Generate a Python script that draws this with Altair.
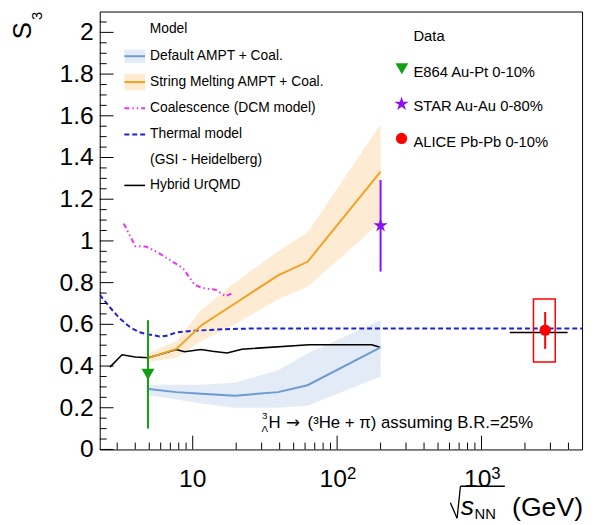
import altair as alt
import pandas as pd

# ---------------- data ----------------
thermal_x = [2.27, 2.63, 3.08, 3.7, 4.3, 4.8, 5.9, 6.6, 7.7, 10, 17, 26, 200, 4970]
thermal_y = [0.742, 0.687, 0.632, 0.585, 0.562, 0.553, 0.542, 0.545, 0.561, 0.569, 0.577, 0.58, 0.58, 0.58]

dcm_x = [3.33, 4.0, 4.8, 5.6, 7.3, 8.55, 10.3, 11.7, 14.4, 16.9, 18.8]
dcm_y = [1.083, 0.975, 0.972, 0.948, 0.90, 0.869, 0.79, 0.774, 0.766, 0.735, 0.75]

urqmd_x = [2.67, 3.24, 4.0, 4.93, 6.41, 7.69, 8.78, 11.4, 13.7, 17.3, 21.9, 64.2, 174, 198]
urqmd_y = [0.395, 0.454, 0.443, 0.44, 0.463, 0.479, 0.469, 0.479, 0.471, 0.463, 0.481, 0.502, 0.502, 0.49]

urqmd_lhc_x = [1570, 3950]
urqmd_lhc_y = [0.561, 0.561]

ampt_x = [4.93, 7.7, 11.5, 19.6, 39, 62.4, 200]
sm_y = [0.438, 0.482, 0.596, 0.70, 0.835, 0.90, 1.332]
sm_lo = [0.42, 0.44, 0.52, 0.60, 0.72, 0.78, 1.09]
sm_hi = [0.46, 0.52, 0.67, 0.80, 0.95, 1.04, 1.56]
def_y = [0.29, 0.275, 0.267, 0.258, 0.275, 0.308, 0.49]
def_lo = [0.26, 0.24, 0.22, 0.20, 0.20, 0.21, 0.35]
def_hi = [0.31, 0.31, 0.31, 0.32, 0.38, 0.46, 0.62]

exp_name = ["E864 Au-Pt 0-10%", "STAR Au-Au 0-80%", "ALICE Pb-Pb 0-10%"]
exp_x = [4.9, 200, 2760]
exp_y = [0.36, 1.074, 0.572]
exp_lo = [0.10, 0.853, 0.482]
exp_hi = [0.62, 1.292, 0.659]
alice_sys_x = [2291, 3240]
alice_sys_y = [0.419, 0.722]

x_major = [10, 100, 1000]
x_major_exp = ["", "2", "3"]
x_minor = [3, 4, 5, 6, 7, 8, 9, 20, 30, 40, 50, 60, 70, 80, 90,
           200, 300, 400, 500, 600, 700, 800, 900, 2000, 3000, 4000]
y_major = [0, 0.2, 0.4, 0.6, 0.8, 1.0, 1.2, 1.4, 1.6, 1.8, 2.0]
y_labels = ["0", "0.2", "0.4", "0.6", "0.8", "1", "1.2", "1.4", "1.6", "1.8", "2"]
y_minor = [round(i * 0.05, 2) for i in range(42) if i % 4]

# ---------------- styling ----------------
W, H = 489, 444
FONT = "Liberation Sans"
C_SM = "#f4a023"
C_DEF = "#6c9bd2"
C_DCM = "#ee33ee"
C_TH = "#2020cc"
C_E864 = "#12a012"
C_STAR = "#8a10ee"
C_ALICE = "#ff0000"
BAND_OP = 0.2
STAR_PATH = ("M0,-1 L0.2245,-0.309 L0.951,-0.309 L0.363,0.118 L0.588,0.809 "
             "L0,0.382 L-0.588,0.809 L-0.363,0.118 L-0.951,-0.309 L-0.2245,-0.309 Z")

xs = alt.Scale(type="log", domain=[2.27, 4970], nice=False)
ys = alt.Scale(domain=[0, 2.1], nice=False, zero=False)


def X(f):
    return alt.X(f, type="quantitative", scale=xs, axis=None)


def Y(f):
    return alt.Y(f, type="quantitative", scale=ys, axis=None)


one = pd.DataFrame({"a": [0]})


def txt(s, px, py, size, align="left", baseline="middle", angle=0, style="normal",
        color="black", font=FONT):
    return alt.Chart(one).mark_text(
        text=s, align=align, baseline=baseline, fontSize=size, font=font,
        angle=angle, fontStyle=style, color=color
    ).encode(x=alt.value(px), y=alt.value(py))


def seg(x1, y1, x2, y2, color="black", width=1.0, dash=None):
    kw = dict(color=color, strokeWidth=width)
    if dash:
        kw["strokeDash"] = dash
    return alt.Chart(one).mark_rule(**kw).encode(
        x=alt.value(x1), y=alt.value(y1), x2=alt.value(x2), y2=alt.value(y2))


def box(x1, y1, x2, y2, color, opacity):
    return alt.Chart(one).mark_rect(color=color, opacity=opacity).encode(
        x=alt.value(x1), x2=alt.value(x2), y=alt.value(y1), y2=alt.value(y2))


ampt = pd.DataFrame({"x": ampt_x, "sm": sm_y, "smlo": sm_lo, "smhi": sm_hi,
                     "df": def_y, "dflo": def_lo, "dfhi": def_hi})

layers = []
# bands
layers.append(alt.Chart(ampt).mark_area(color=C_SM, opacity=BAND_OP, clip=True)
              .encode(x=X("x"), y=Y("smlo"), y2=alt.Y2("smhi")))
layers.append(alt.Chart(ampt).mark_area(color=C_DEF, opacity=BAND_OP, clip=True)
              .encode(x=X("x"), y=Y("dflo"), y2=alt.Y2("dfhi")))


def line(xv, yv, color, width=2, dash=None):
    kw = dict(color=color, strokeWidth=width, clip=True)
    if dash:
        kw["strokeDash"] = dash
    return alt.Chart(pd.DataFrame({"x": xv, "y": yv})).mark_line(**kw).encode(x=X("x"), y=Y("y"))


layers.append(line(thermal_x, thermal_y, C_TH, 2, [5, 3]))
layers.append(line(dcm_x, dcm_y, C_DCM, 2, [5, 3, 1.5, 3, 1.5, 3]))
layers.append(line(urqmd_x, urqmd_y, "black", 1.6))
layers.append(line(urqmd_lhc_x, urqmd_lhc_y, "black", 1.6))
layers.append(line(ampt_x, sm_y, C_SM, 2))
layers.append(line(ampt_x, def_y, C_DEF, 2))

exp = pd.DataFrame({"name": exp_name, "x": exp_x, "y": exp_y, "lo": exp_lo, "hi": exp_hi})
ecol = alt.Color("name:N", scale=alt.Scale(domain=exp_name, range=[C_E864, C_STAR, C_ALICE]), legend=None)
layers.append(alt.Chart(exp).mark_rule(strokeWidth=2).encode(
    x=X("x"), y=Y("lo"), y2=alt.Y2("hi"), color=ecol))

sysdf = pd.DataFrame({"x1": [alice_sys_x[0]], "x2": [alice_sys_x[1]],
                      "y1": [alice_sys_y[0]], "y2": [alice_sys_y[1]]})
layers.append(alt.Chart(sysdf).mark_rect(fill="white", fillOpacity=0, stroke=C_ALICE, strokeWidth=1.5)
              .encode(x=X("x1"), x2=alt.X2("x2"), y=Y("y1"), y2=alt.Y2("y2")))

layers.append(alt.Chart(exp.iloc[[0]]).mark_point(shape="triangle-down", filled=True, size=170, opacity=1, color=C_E864)
              .encode(x=X("x"), y=Y("y")))
layers.append(alt.Chart(exp.iloc[[1]]).mark_point(shape=STAR_PATH, filled=True, size=230, opacity=1, color=C_STAR)
              .encode(x=X("x"), y=Y("y")))
layers.append(alt.Chart(exp.iloc[[2]]).mark_point(shape="circle", filled=True, size=130, opacity=1, color=C_ALICE)
              .encode(x=X("x"), y=Y("y")))

# ticks (inside the frame, ROOT style)
layers.append(alt.Chart(pd.DataFrame({"v": x_major})).mark_rule(color="black", strokeWidth=1)
              .encode(x=X("v"), y=alt.value(H), y2=alt.value(H - 14)))
layers.append(alt.Chart(pd.DataFrame({"v": x_minor})).mark_rule(color="black", strokeWidth=1)
              .encode(x=X("v"), y=alt.value(H), y2=alt.value(H - 7)))
layers.append(alt.Chart(pd.DataFrame({"v": y_major})).mark_rule(color="black", strokeWidth=1)
              .encode(y=Y("v"), x=alt.value(0), x2=alt.value(14)))
layers.append(alt.Chart(pd.DataFrame({"v": y_minor})).mark_rule(color="black", strokeWidth=1)
              .encode(y=Y("v"), x=alt.value(0), x2=alt.value(7)))

# tick labels
layers.append(alt.Chart(pd.DataFrame({"v": y_major, "t": y_labels})).mark_text(
    align="right", baseline="middle", fontSize=25, font=FONT, color="black")
    .encode(y=Y("v"), x=alt.value(-6), text="t:N"))
xl = pd.DataFrame({"v": x_major, "e": x_major_exp, "b": ["10"] * 3})
layers.append(alt.Chart(xl.iloc[[0]]).mark_text(
    align="center", baseline="alphabetic", fontSize=25, font=FONT, color="black")
    .encode(x=X("v"), y=alt.value(H + 38), text="b:N"))
layers.append(alt.Chart(xl.iloc[[1, 2]]).mark_text(
    align="right", baseline="alphabetic", fontSize=25, font=FONT, color="black", dx=10)
    .encode(x=X("v"), y=alt.value(H + 38), text="b:N"))
layers.append(alt.Chart(xl.iloc[[1, 2]]).mark_text(
    align="left", baseline="alphabetic", fontSize=17, font=FONT, color="black", dx=10)
    .encode(x=X("v"), y=alt.value(H + 30), text="e:N"))

# axis titles
layers.append(txt("S", -78, 19.5, 26, align="center", angle=270))
layers.append(txt("3", -64, 4.5, 15, align="center", angle=270))
layers.append(seg(355.5, 498, 362.3, 513.7, width=1.3))
layers.append(seg(362.3, 513.7, 365.7, 481.3, width=1.3))
layers.append(seg(365.7, 481.3, 410.7, 481.3, width=1.3))
layers.append(txt("s", 366, 510, 27, baseline="alphabetic", style="italic"))
layers.append(txt("NN", 380, 515, 15, baseline="alphabetic"))
layers.append(txt("(GeV)", 418, 511, 27, baseline="alphabetic"))

# model legend
layers.append(txt("Model", 50.7, 18, 14))
layers.append(box(25, 38.5, 46, 52, C_DEF, BAND_OP))
layers.append(seg(25, 45.3, 46, 45.3, C_DEF, 2))
layers.append(txt("Default AMPT + Coal.", 51, 44.7, 14))
layers.append(box(25, 63, 46, 80, C_SM, BAND_OP))
layers.append(seg(25, 71.5, 46, 71.5, C_SM, 2))
layers.append(txt("String Melting AMPT + Coal.", 51, 71.3, 14))
layers.append(seg(25, 98, 46, 98, C_DCM, 2, [5, 3, 1.5, 3, 1.5, 3]))
layers.append(txt("Coalescence (DCM model)", 51, 98, 14))
layers.append(seg(25, 124.7, 46, 124.7, C_TH, 2, [5, 3]))
layers.append(txt("Thermal model", 51, 124.7, 14))
layers.append(txt("(GSI - Heidelberg)", 51, 150.3, 14))
layers.append(seg(25, 176.3, 46, 176.3, "black", 1.6))
layers.append(txt("Hybrid UrQMD", 51, 176.3, 14))

# data legend
layers.append(txt("Data", 318, 25.3, 15))
layers.append(alt.Chart(one).mark_point(shape="triangle-down", filled=True, size=170, opacity=1, color=C_E864)
              .encode(x=alt.value(306.3), y=alt.value(58)))
layers.append(txt(exp_name[0], 318, 61, 15))
layers.append(alt.Chart(one).mark_point(shape=STAR_PATH, filled=True, size=230, opacity=1, color=C_STAR)
              .encode(x=alt.value(306), y=alt.value(93.7)))
layers.append(txt(exp_name[1], 318, 96.3, 15))
layers.append(alt.Chart(one).mark_point(shape="circle", filled=True, size=130, opacity=1, color=C_ALICE)
              .encode(x=alt.value(306), y=alt.value(128.7)))
layers.append(txt(exp_name[2], 318, 132, 15))

# annotation
layers.append(txt("3", 167.3, 410, 10, align="center"))
layers.append(txt("\u039b", 167.3, 423, 10, align="center"))
layers.append(txt("H", 171, 417.3, 17))
layers.append(txt("\u2192", 196, 417.3, 17, align="center", font="DejaVu Sans"))
layers.append(txt("(\u00b3He + \u03c0) assuming B.R.=25%", 210.7, 417.3, 17))

chart = alt.layer(*layers).properties(
    width=W, height=H,
    autosize=alt.AutoSizeParams(type="none"),
    padding={"left": 93, "top": 0, "right": 4, "bottom": 73},
).configure_view(stroke="black", strokeWidth=1)

chart.save("out.html", embed_options={"renderer": "svg", "actions": False})
